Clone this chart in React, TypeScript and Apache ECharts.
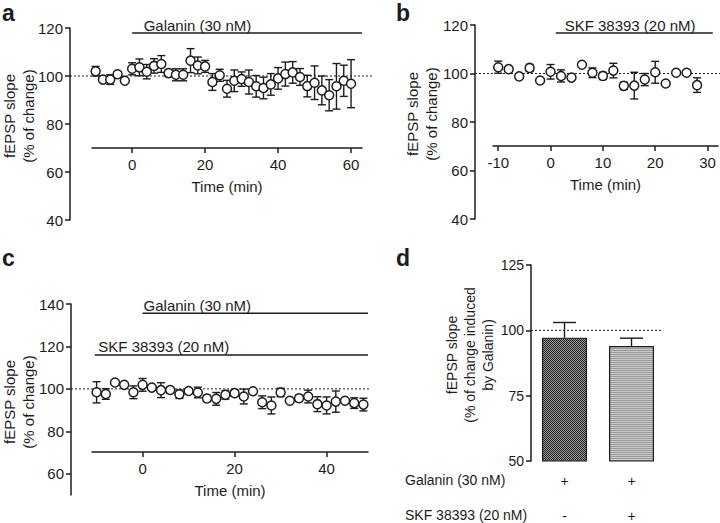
import React, { useEffect, useRef } from 'react';
import * as echarts from 'echarts';

// ---------- data ----------
const timeA = [-10, -8, -6, -4, -2, 0, 2, 4, 6, 8, 10, 12, 14, 16, 18, 20, 22, 24, 26, 28, 30, 32, 34, 36, 38, 40, 42, 44, 46, 48, 50, 52, 54, 56, 58, 60];
const slopeA = [102, 98.5, 98.5, 100.7, 98, 103, 103.6, 101.8, 104.2, 105, 101.2, 100.5, 100.5, 106.4, 104.4, 104, 97.5, 100.3, 94.7, 98, 98.7, 97.5, 95.7, 95, 96.5, 99, 100.8, 101.5, 99.6, 95.8, 97.2, 94, 92, 95.7, 98, 96.8];
const semA = [2, 1, 2, 1, 0.8, 2.5, 3.5, 3, 3, 3.5, 1.5, 2.5, 2.5, 5, 3.5, 2.5, 3.5, 2.5, 3.5, 4.5, 3, 5, 4.5, 4.5, 4.5, 4.5, 5, 4.5, 3.5, 4.5, 7, 6, 6.5, 9.5, 6.5, 10];

const timeB = [-10, -8, -6, -4, -2, 0, 2, 4, 6, 8, 10, 12, 14, 16, 18, 20, 22, 24, 26, 28];
const slopeB = [102.6, 101.8, 98.8, 102.3, 97.1, 100.7, 99, 98.3, 103.6, 100.3, 99, 101.2, 94.9, 95, 97.5, 100.5, 95.9, 100.3, 100.3, 95.2];
const semB = [2.5, 0.5, 0.5, 1.5, 0.5, 3, 2.5, 0.5, 0.5, 2, 1.5, 3, 1.5, 5.5, 2.5, 4.5, 0.5, 1, 1, 3];

const timeC = [-10, -8, -6, -4, -2, 0, 2, 4, 6, 8, 10, 12, 14, 16, 18, 20, 22, 24, 26, 28, 30, 32, 34, 36, 38, 40, 42, 44, 46, 48];
const slopeC = [98.4, 97.6, 103, 101.9, 98.4, 101.9, 100.6, 99.4, 99.5, 97.5, 99, 98.3, 95.5, 95.3, 97.2, 98, 96.4, 98.9, 93.7, 92.2, 98.3, 94.4, 95.6, 96.4, 92.8, 92.2, 94, 94.4, 93.3, 92.6];
const semC = [5, 2.5, 0.5, 0.5, 3, 3, 0.5, 3.5, 1.5, 2, 1, 2.5, 1.5, 3, 2, 1.5, 3.5, 0.5, 3, 4, 2, 1, 1.5, 3, 3.5, 4, 5, 1, 2.5, 3];

const barCategories = ['Galanin', 'Galanin + SKF 38393'];
const barMeans = [97.2, 94];
const barSems = [5.8, 3];
const galaninRow = ['+', '+'];
const skfRow = ['-', '+'];

const ticksA = [0, 20, 40, 60];
const ticksB = [-10, 0, 10, 20, 30];
const ticksC = [0, 20, 40];
const ticksCY = [60, 80, 100, 120, 140];

// drug application bars
const drugLabels = ['Galanin (30 nM)', 'SKF 38393 (20 nM)', 'Galanin (30 nM)', 'SKF 38393 (20 nM)'];
const drugPanel = [0, 1, 2, 2];
const drugStart = [0, 1, 0, -10.4];
const drugEnd = [63, 31, 49, 49];
const drugLevel = [117.9, 116.7, 135.6, 116];
const drugLabelAt = [17.9, 15.2, 11.9, 4.6];

const FONT = '"Liberation Sans", Arial, Helvetica, sans-serif';
const INK = '#1c1c1c';

function makePattern(kind: string) {
  const c = document.createElement('canvas');
  c.width = 2;
  c.height = 2;
  const g = c.getContext('2d')!;
  if (kind === 'check') {
    g.fillStyle = '#969696';
    g.fillRect(0, 0, 2, 2);
    g.fillStyle = '#262626';
    g.fillRect(0, 0, 1, 1);
    g.fillRect(1, 1, 1, 1);
  } else {
    g.fillStyle = '#c8c8c8';
    g.fillRect(0, 0, 2, 2);
    g.fillStyle = '#9c9c9c';
    g.fillRect(0, 0, 2, 1);
  }
  return { image: c, repeat: 'repeat' };
}

function xAxisValue(grid: number, min: number, max: number, ticks: number[], offset: number) {
  return {
    type: 'value', gridIndex: grid, min, max, position: 'bottom', offset,
    axisLine: { show: true, onZero: false, lineStyle: { color: INK, width: 1.5 } },
    axisTick: { show: true, length: 5, customValues: ticks, lineStyle: { color: INK, width: 1.5 } },
    axisLabel: { show: true, customValues: ticks, margin: 9, fontSize: 15, color: INK, fontFamily: FONT },
    splitLine: { show: false },
    name: 'Time (min)', nameLocation: 'middle', nameGap: 31, nameMoveOverlap: false,
    nameTextStyle: { fontSize: 15, color: INK, fontFamily: FONT },
  };
}

function yAxisValue(grid: number, min: number, max: number, offset: number, interval: number | null, custom: number[] | null, fs: number) {
  const ax: any = {
    type: 'value', gridIndex: grid, min, max, position: 'left', offset,
    axisLine: { show: true, onZero: false, lineStyle: { color: INK, width: 1.5 } },
    axisTick: { show: true, length: 5, lineStyle: { color: INK, width: 1.5 } },
    axisLabel: { show: true, margin: 7, fontSize: fs, color: INK, fontFamily: FONT },
    splitLine: { show: false },
  };
  if (interval != null) ax.interval = interval;
  if (custom) {
    ax.axisTick.customValues = custom;
    ax.axisLabel.customValues = custom;
  }
  return ax;
}

function errSeries(grid: number, times: number[], vals: number[], sems: number[]) {
  return {
    type: 'custom', xAxisIndex: grid, yAxisIndex: grid, z: 3, silent: true,
    encode: { x: 0, y: 1 },
    data: times.map((t, i) => [t, vals[i], sems[i]]),
    renderItem: (params: any, api: any) => {
      const x = api.value(0), y = api.value(1), e = api.value(2);
      const top = api.coord([x, y + e]);
      const bot = api.coord([x, y - e]);
      const cap = 4;
      const st = { stroke: INK, lineWidth: 1.4 };
      return {
        type: 'group',
        children: [
          { type: 'line', shape: { x1: top[0], y1: top[1], x2: bot[0], y2: bot[1] }, style: st },
          { type: 'line', shape: { x1: top[0] - cap, y1: top[1], x2: top[0] + cap, y2: top[1] }, style: st },
          { type: 'line', shape: { x1: bot[0] - cap, y1: bot[1], x2: bot[0] + cap, y2: bot[1] }, style: st },
        ],
      };
    },
  };
}

function dotSeries(grid: number, times: number[], vals: number[]) {
  return {
    type: 'scatter', xAxisIndex: grid, yAxisIndex: grid, z: 5, silent: true,
    data: times.map((t, i) => [t, vals[i]]),
    symbol: 'circle', symbolSize: 9,
    itemStyle: { color: '#ffffff', borderColor: INK, borderWidth: 1.5, opacity: 1 },
  };
}

function txt(text: string, x: number, y: number, opts: any = {}) {
  const align = opts.align || 'center';
  const va = opts.va || 'middle';
  return {
    type: 'text', x, y, rotation: opts.rotation || 0, silent: true, z: 10,
    style: {
      text, fill: INK, fontFamily: FONT, fontSize: opts.size || 15, fontWeight: opts.weight || 'normal',
      align, textAlign: align, verticalAlign: va, textVerticalAlign: va,
      lineHeight: opts.lineHeight,
    },
  };
}

export default function App() {
  const ref = useRef<HTMLDivElement>(null);
  useEffect(() => {
    if (!ref.current) return;
    const chart = echarts.init(ref.current, null, { renderer: 'svg', width: 720, height: 523 });
    const patterns = [makePattern('check'), makePattern('lines')];

    const drugSeries = drugLabels.map((_, i) => ({
      type: 'line', xAxisIndex: drugPanel[i], yAxisIndex: drugPanel[i], silent: true, z: 2,
      symbol: 'none', clip: false,
      data: [[drugStart[i], drugLevel[i]], [drugEnd[i], drugLevel[i]]],
      lineStyle: { color: INK, width: 1.5 },
    }));

    const option: any = {
      animation: false,
      backgroundColor: '#ffffff',
      grid: [
        { left: 92, top: 28, width: 270, height: 192, containLabel: false, outerBoundsMode: 'none' },
        { left: 493, top: 25, width: 225, height: 194, containLabel: false, outerBoundsMode: 'none' },
        { left: 92, top: 304, width: 276, height: 191, containLabel: false, outerBoundsMode: 'none' },
        { left: 531, top: 265, width: 134, height: 196, containLabel: false, outerBoundsMode: 'none' },
      ],
      xAxis: [
        xAxisValue(0, -11, 63, ticksA, -72),
        xAxisValue(1, -11, 32, ticksB, -73),
        xAxisValue(2, -11, 49, ticksC, -43),
        {
          type: 'category', gridIndex: 3, data: barCategories,
          axisLine: { show: false }, axisTick: { show: false }, splitLine: { show: false },
          axisLabel: {
            show: true, margin: 2, interval: 0,
            formatter: (_v: string, i: number) => `{r|${galaninRow[i]}}\n{r|${skfRow[i]}}`,
            rich: { r: { fontSize: 14, lineHeight: 35, fontFamily: FONT, color: INK } },
          },
        },
      ],
      yAxis: [
        yAxisValue(0, 40, 120, 22, 20, null, 15),
        yAxisValue(1, 40, 120, 18, 20, null, 15),
        yAxisValue(2, 50, 140, 21, null, ticksCY, 15),
        yAxisValue(3, 50, 125, 0, 25, null, 14),
      ],
      series: [
        errSeries(0, timeA, slopeA, semA),
        dotSeries(0, timeA, slopeA),
        errSeries(1, timeB, slopeB, semB),
        dotSeries(1, timeB, slopeB),
        errSeries(2, timeC, slopeC, semC),
        dotSeries(2, timeC, slopeC),
        ...drugSeries,
        {
          type: 'bar', xAxisIndex: 3, yAxisIndex: 3, barWidth: 45, silent: true, z: 2,
          data: barMeans.map((v, i) => ({
            value: v,
            itemStyle: { color: patterns[i], borderColor: INK, borderWidth: 1.2 },
          })),
        },
        {
          type: 'custom', xAxisIndex: 3, yAxisIndex: 3, z: 3, silent: true,
          encode: { x: 0, y: 1 },
          data: barMeans.map((v, i) => [i, v, barSems[i]]),
          renderItem: (params: any, api: any) => {
            const x = api.value(0), y = api.value(1), e = api.value(2);
            const base = api.coord([x, y]);
            const top = api.coord([x, y + e]);
            const cap = 11.5;
            const st = { stroke: INK, lineWidth: 1.4 };
            return {
              type: 'group',
              children: [
                { type: 'line', shape: { x1: base[0], y1: base[1], x2: top[0], y2: top[1] }, style: st },
                { type: 'line', shape: { x1: top[0] - cap, y1: top[1], x2: top[0] + cap, y2: top[1] }, style: st },
              ],
            };
          },
        },
      ],
    };
    chart.setOption(option);

    const toPx = (gi: number, pt: any[]) => chart.convertToPixel({ gridIndex: gi } as any, pt) as number[];
    const refStart = [70, 475, 71, 531];
    const refEnd = [372, 720, 370, 662];
    const graphics: any[] = [];
    [0, 1, 2, 3].forEach((gi) => {
      const y = toPx(gi, [0, 100])[1];
      graphics.push({
        type: 'line', silent: true, z: 1,
        shape: { x1: refStart[gi], y1: y, x2: refEnd[gi], y2: y },
        style: { stroke: INK, lineWidth: 1, lineDash: [2, 2] },
      });
    });
    drugLabels.forEach((lab, i) => {
      const p = toPx(drugPanel[i], [drugLabelAt[i], drugLevel[i]]);
      graphics.push(txt(lab, p[0], p[1] - 8, { size: 15 }));
    });
    // panel letters
    graphics.push(txt('a', 2, 13, { size: 23, weight: 'bold', align: 'left' }));
    graphics.push(txt('b', 396, 13, { size: 23, weight: 'bold', align: 'left' }));
    graphics.push(txt('c', 2, 257.5, { size: 23, weight: 'bold', align: 'left' }));
    graphics.push(txt('d', 396, 258, { size: 23, weight: 'bold', align: 'left' }));
    // y-axis titles
    graphics.push(txt('fEPSP slope\n(% of change)', 19, 116, { rotation: Math.PI / 2, lineHeight: 19 }));
    graphics.push(txt('fEPSP slope\n(% of change)', 422, 114, { rotation: Math.PI / 2, lineHeight: 19 }));
    graphics.push(txt('fEPSP slope\n(% of change)', 19, 402, { rotation: Math.PI / 2, lineHeight: 19 }));
    graphics.push(txt('fEPSP slope\n(% of change induced\nby Galanin)', 470, 355, { rotation: Math.PI / 2, lineHeight: 18.3, size: 14 }));
    // row headers of panel d
    graphics.push(txt('Galanin (30 nM)', 405, 480, { align: 'left', size: 14 }));
    graphics.push(txt('SKF 38393 (20 nM)', 405, 515, { align: 'left', size: 14 }));

    chart.setOption({ graphic: graphics });
    return () => chart.dispose();
  }, []);
  return (
    <div
      ref={ref}
      style={{ position: 'fixed', left: 0, top: 0, width: 720, height: 523, background: '#fff' }}
    />
  );
}
